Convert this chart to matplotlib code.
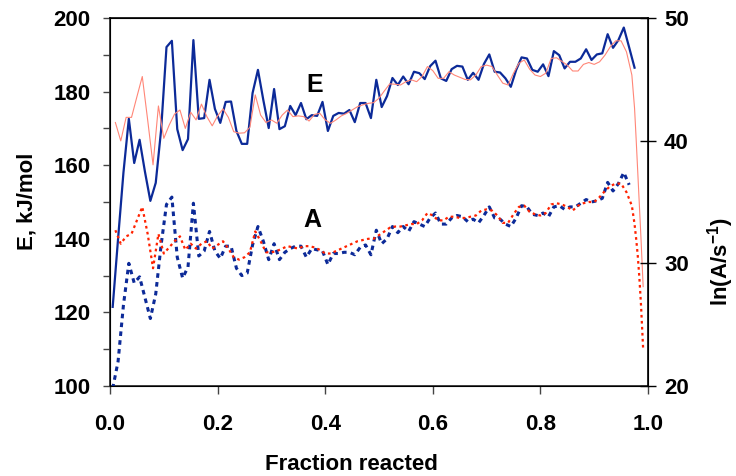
import numpy as np
import matplotlib.pyplot as plt
from matplotlib.ticker import MultipleLocator, FormatStrFormatter

plt.rcParams['font.family'] = ['Liberation Sans', 'DejaVu Sans']
plt.rcParams['font.weight'] = 'bold'
plt.rcParams['mathtext.fontset'] = 'custom'
plt.rcParams['mathtext.rm'] = 'Liberation Sans:bold'
plt.rcParams['mathtext.it'] = 'Liberation Sans:bold'
plt.rcParams['mathtext.bf'] = 'Liberation Sans:bold'

# fraction reacted grids (blue: raw estimates, red: smoothed estimates)
frac_blue = np.round(np.arange(0.005, 0.98, 0.01), 3)
frac_red = np.concatenate([np.round(np.arange(0.01, 0.975, 0.01), 3),
                           [0.975, 0.978, 0.981, 0.984, 0.987, 0.991]])

# activation energy, kJ/mol
e_blue = [121.5, 140.0, 158.0, 172.6, 160.6, 166.9, 158.2, 150.3, 155.2, 169.6,
          192.1, 193.8, 169.8, 164.1, 167.1, 194.0, 172.6, 172.8, 183.2, 175.3,
          171.5, 177.2, 177.3, 169.3, 165.8, 165.8, 179.6, 185.9, 177.7, 170.1,
          180.7, 169.8, 170.6, 176.1, 173.6, 176.9, 172.5, 173.6, 173.4, 177.2,
          169.3, 173.4, 174.2, 174.0, 175.0, 171.7, 176.9, 176.9, 172.8, 183.2,
          175.8, 178.8, 183.7, 181.8, 184.1, 182.0, 185.4, 185.0, 183.4, 186.9,
          188.4, 183.6, 182.9, 186.1, 187.0, 186.8, 183.2, 185.1, 183.2, 187.5,
          190.1, 185.4, 185.2, 183.6, 181.3, 185.9, 189.3, 189.0, 185.9, 185.4,
          187.4, 184.2, 191.0, 189.9, 186.3, 188.1, 188.1, 189.0, 191.5, 188.6,
          190.1, 190.4, 195.6, 191.9, 194.0, 197.4, 192.0, 186.5]

e_red = [171.6, 166.6, 173.0, 173.0, 178.6, 184.1, 172.3, 160.1, 176.1, 167.3,
         170.9, 173.9, 175.0, 170.0, 174.4, 172.3, 176.6, 173.2, 170.7, 173.4,
         175.3, 173.0, 169.1, 168.7, 168.8, 170.3, 179.1, 173.6, 171.6, 172.3,
         171.4, 173.6, 175.0, 173.2, 173.4, 173.2, 172.0, 173.8, 174.1, 172.3,
         171.4, 172.3, 173.4, 174.1, 175.0, 175.9, 176.4, 176.8, 177.0, 178.2,
         180.2, 182.1, 182.0, 181.8, 182.7, 183.2, 182.7, 184.1, 186.8, 185.7,
         183.6, 183.6, 185.4, 184.5, 183.9, 183.3, 183.2, 184.5, 186.8, 187.2,
         186.8, 184.5, 182.3, 181.8, 185.0, 187.7, 188.6, 186.1, 184.5, 184.1,
         185.0, 189.0, 189.2, 188.2, 187.2, 185.6, 185.6, 187.4, 187.9, 187.4,
         188.1, 189.9, 192.2, 193.8, 193.8, 190.8, 184.5,
         175.5, 167.0, 158.0, 149.0, 140.0, 127.0]

# pre-exponential factor, ln(A/s^-1)
lnA_blue = [19.8, 22.0, 26.6, 30.0, 28.4, 28.9, 27.2, 25.5, 27.5, 31.5,
            34.8, 35.4, 30.5, 28.8, 29.7, 34.9, 30.6, 31.0, 32.6, 31.0,
            30.4, 31.4, 31.4, 29.6, 29.0, 29.2, 31.5, 33.0, 31.8, 30.3,
            31.6, 30.3, 30.9, 31.2, 31.4, 31.4, 30.5, 31.2, 31.1, 31.0,
            29.9, 30.8, 30.8, 30.9, 30.9, 30.7, 31.3, 31.5, 30.7, 32.7,
            31.6, 32.0, 33.0, 32.5, 33.0, 32.6, 33.4, 33.2, 33.0, 33.7,
            34.1, 33.2, 33.2, 33.7, 33.9, 33.8, 33.4, 33.6, 33.3, 33.9,
            34.6, 33.7, 33.6, 33.2, 33.0, 33.7, 34.7, 34.6, 34.0, 33.9,
            34.1, 33.8, 34.6, 34.7, 34.4, 34.6, 34.6, 34.9, 35.2, 35.0,
            35.1, 35.3, 36.6, 35.9, 36.5, 37.4, 36.4]

lnA_red = [32.7, 31.6, 32.2, 32.4, 33.5, 34.6, 32.4, 29.6, 32.4, 30.8,
           31.3, 31.8, 32.2, 31.1, 31.6, 31.2, 31.6, 31.8, 31.2, 31.5,
           31.8, 31.2, 30.5, 30.3, 30.5, 30.9, 32.6, 31.8, 30.9, 30.9,
           31.0, 31.2, 31.4, 31.3, 31.2, 31.4, 31.4, 31.3, 31.1, 30.8,
           30.8, 31.0, 31.2, 31.4, 31.6, 31.8, 31.9, 32.0, 32.0, 32.3,
           32.6, 32.9, 33.0, 33.0, 33.1, 33.2, 33.2, 33.5, 34.1, 33.9,
           33.5, 33.5, 33.8, 33.8, 33.7, 33.7, 33.8, 33.9, 34.3, 34.4,
           34.3, 33.9, 33.3, 33.3, 34.0, 34.6, 34.7, 34.2, 34.0, 33.9,
           34.1, 34.8, 34.9, 34.8, 34.6, 34.3, 34.7, 34.9, 35.0, 35.0,
           35.4, 35.9, 36.3, 36.5, 36.5, 35.8, 34.7,
           33.2, 32.0, 30.6, 28.8, 26.6, 23.0]

BLUE = '#0c2a98'
SALMON = '#ff8677'
RED = '#ff2200'

fig = plt.figure(figsize=(7.36, 4.76), dpi=100)
ax = fig.add_axes([110 / 736, 1 - 386 / 476, 538 / 736, 368 / 476])
ax2 = ax.twinx()

ax.plot(frac_blue, e_blue, color=BLUE, lw=1.6, zorder=2)
ax.plot(frac_red, e_red, color=SALMON, lw=0.8, zorder=3)
ax2.plot(frac_blue[:len(lnA_blue)], lnA_blue, color=BLUE, lw=2.2,
         linestyle=(0, (1.5, 1.4)))
ax2.plot(frac_red, lnA_red, color=RED, lw=1.6, linestyle=(0, (1.2, 1.5)))

ax.set_xlim(0, 1)
ax.set_ylim(100, 200)
ax2.set_ylim(20, 50)

ax.xaxis.set_major_locator(MultipleLocator(0.2))
ax.xaxis.set_major_formatter(FormatStrFormatter('%.1f'))
ax.yaxis.set_major_locator(MultipleLocator(20))
ax.yaxis.set_minor_locator(MultipleLocator(10))
ax2.yaxis.set_major_locator(MultipleLocator(10))

ax.tick_params(axis='y', which='both', direction='out', length=5, width=1,
               labelsize=16, pad=9, color='#444')
ax.tick_params(axis='x', direction='out', length=6, width=1,
               labelsize=16, pad=14, color='#444')
ax2.tick_params(axis='y', direction='inout', length=11, width=1,
                labelsize=16, pad=6)

for sp in ['left', 'bottom']:
    ax.spines[sp].set_color('#333')
    ax.spines[sp].set_linewidth(1.3)
for sp in ['top', 'right']:
    ax2.spines[sp].set_color('black')
    ax2.spines[sp].set_linewidth(1.2)

ax.text(0.381, 181.8, 'E', fontsize=18, fontweight='bold', ha='center', va='center')
ax.text(0.377, 145.1, 'A', fontsize=18, fontweight='bold', ha='center', va='center')

fig.text(27 / 736, 1 - 201 / 476, 'E, kJ/mol', rotation=90, fontsize=16,
         fontweight='bold', ha='center', va='center')
fig.text(351 / 736, 1 - 464 / 476, 'Fraction reacted', fontsize=16,
         fontweight='bold', ha='center', va='center')
fig.text(721 / 736, 1 - 262 / 476, r'ln(A/s$^{-1}$)', rotation=90, fontsize=16,
         fontweight='bold', ha='center', va='center')

fig.savefig('out.png', dpi=100)
